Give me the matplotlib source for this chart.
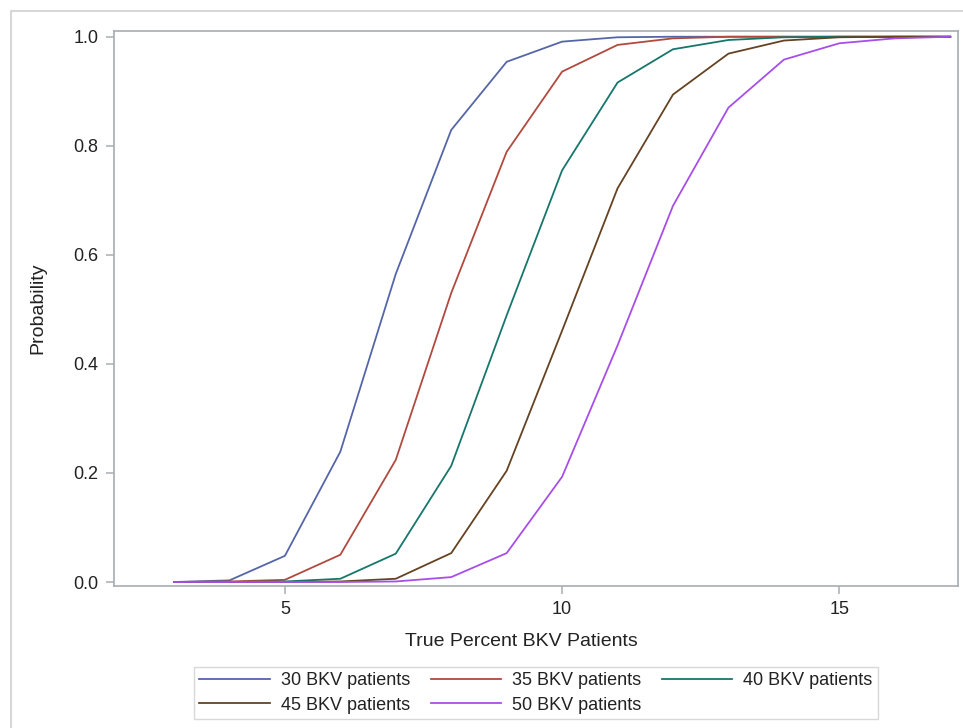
import matplotlib
matplotlib.use("Agg")
import matplotlib.pyplot as plt
from matplotlib.patches import Rectangle
from matplotlib.lines import Line2D

plt.rcParams['font.family'] = ['Liberation Sans', 'DejaVu Sans']

true_pct = [3, 4, 5, 6, 7, 8, 9, 10, 11, 12, 13, 14, 15, 16, 17]

p30 = [0.0, 0.003, 0.048, 0.239, 0.565, 0.829, 0.954, 0.991, 0.999, 1.0, 1.0, 1.0, 1.0, 1.0, 1.0]
p35 = [0.0, 0.001, 0.004, 0.050, 0.224, 0.530, 0.789, 0.936, 0.985, 0.997, 1.0, 1.0, 1.0, 1.0, 1.0]
p40 = [0.0, 0.0, 0.001, 0.006, 0.052, 0.213, 0.489, 0.755, 0.916, 0.977, 0.994, 0.999, 1.0, 1.0, 1.0]
p45 = [0.0, 0.0, 0.0, 0.001, 0.006, 0.053, 0.204, 0.461, 0.722, 0.894, 0.969, 0.993, 0.999, 1.0, 1.0]
p50 = [0.0, 0.0, 0.0, 0.0, 0.001, 0.009, 0.053, 0.193, 0.434, 0.690, 0.870, 0.958, 0.988, 0.997, 1.0]

series = [p30, p35, p40, p45, p50]
labels = ["30 BKV patients", "35 BKV patients", "40 BKV patients",
          "45 BKV patients", "50 BKV patients"]
colors = ["#5566a8", "#b04a3e", "#17766c", "#654322", "#a84ee8"]

W, H = 963, 728
fig = plt.figure(figsize=(W / 100, H / 100), dpi=100)

# outer frame
fig.patches.append(Rectangle((11 / W, -0.1), 1.2, 1.1 - 11 / H, transform=fig.transFigure,
                             fill=False, edgecolor="#cfcfcf", linewidth=1.2))

ax = fig.add_axes([114 / W, 1 - 586 / H, (958 - 114) / W, (586 - 31) / H])
for y, lab, c in zip(series, labels, colors):
    ax.plot(true_pct, y, color=c, linewidth=1.3, label=lab)

ax.set_xlim(1.918, 17.14)
ax.set_ylim(-0.0073, 1.0105)
ax.set_xticks([5, 10, 15])
ax.set_yticks([0.0, 0.2, 0.4, 0.6, 0.8, 1.0])
ax.set_yticklabels(["0.0", "0.2", "0.4", "0.6", "0.8", "1.0"])
for s in ax.spines.values():
    s.set_color("#a8adb3")
    s.set_linewidth(1.2)
ax.tick_params(axis="both", direction="out", length=6, width=1.1, color="#a8adb3",
               labelsize=13, labelcolor="#222222", pad=5)

fig.text(521 / W, 1 - 641 / H, "True Percent BKV Patients", ha="center", va="center",
         fontsize=14, color="#222222")
fig.text(38 / W, 1 - 308 / H, "Probability", ha="center", va="center", rotation=90,
         fontsize=14, color="#222222")

# legend filled row by row (matplotlib fills column by column)
order = [0, 3, 1, 4, 2]
handles = [Line2D([], [], color=colors[i], linewidth=1.3) for i in order]
leg_labels = [labels[i] for i in order]
leg = fig.legend(handles, leg_labels, ncol=3, loc="upper left",
                 bbox_to_anchor=(194 / W, 1 - 667 / H), fontsize=13,
                 frameon=True, fancybox=False, handlelength=3.9, handletextpad=0.6,
                 columnspacing=1.15, borderpad=0.3, labelspacing=0.4,
                 borderaxespad=0)
leg.get_frame().set_edgecolor("#cfcfcf")
leg.get_frame().set_linewidth(1.0)
for t in leg.get_texts():
    t.set_color("#222222")

fig.savefig("out.png", dpi=100)
